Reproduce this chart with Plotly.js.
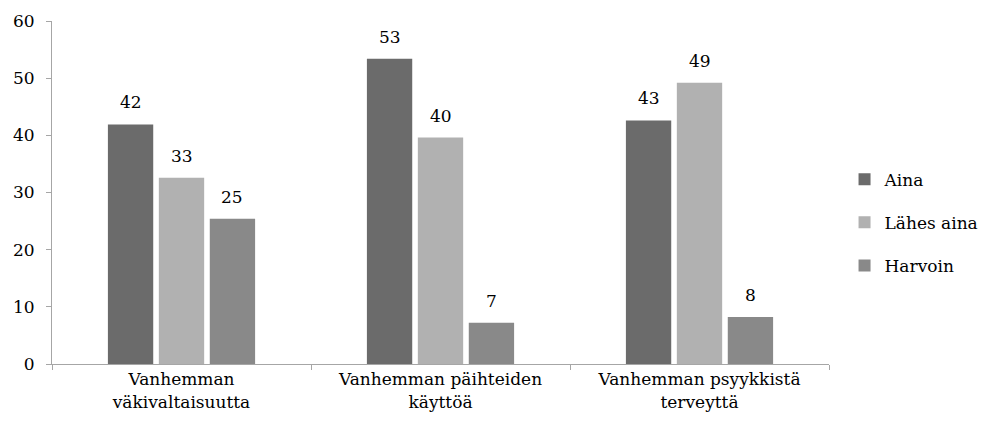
<!DOCTYPE html>
<html>
<head>
<meta charset="utf-8">
<script src="https://cdn.plot.ly/plotly-3.0.1.min.js"></script>
<style>html,body{margin:0;padding:0;background:#fff;}#chart{width:988px;height:434px;}</style>
</head>
<body>
<div id="chart"></div>
<script>
const categories = ["Vanhemman<br>väkivaltaisuutta", "Vanhemman päihteiden<br>käyttöä", "Vanhemman psyykkistä<br>terveyttä"];
const seriesNames = ["Aina", "Lähes aina", "Harvoin"];
const aina = [41.9, 53.4, 42.6];
const lahesAina = [32.6, 39.6, 49.2];
const harvoin = [25.4, 7.2, 8.2];
const yTicks = [0, 10, 20, 30, 40, 50, 60];

const seriesValues = [aina, lahesAina, harvoin];
const colors = ["#6b6b6b", "#b1b1b1", "#898989"];
const FONT = "DejaVu Serif";
const FS = 17;
const bargap = 0.41;

const traces = seriesValues.map((vals, i) => ({
  type: "bar",
  name: seriesNames[i],
  x: categories,
  y: vals,
  marker: {color: colors[i], line: {width: 0}},
  legendgroup: "g" + i,
  hoverinfo: "x+y+name"
}));

const annotations = [];
const slot = (1 - bargap) / seriesValues.length;
seriesValues.forEach((vals, i) => {
  vals.forEach((v, c) => {
    annotations.push({
      x: c + (i - (seriesValues.length - 1) / 2) * slot,
      y: v,
      xref: "x", yref: "y",
      text: String(Math.round(v)),
      showarrow: false,
      yanchor: "bottom",
      yshift: 10,
      font: {family: FONT, size: FS, color: "#000"}
    });
  });
});

const layout = {
  width: 988, height: 434,
  margin: {l: 52, r: 159, t: 21, b: 70, autoexpand: false},
  paper_bgcolor: "#fff", plot_bgcolor: "#fff",
  barmode: "group",
  bargap: bargap,
  bargroupgap: 0.11,
  font: {family: FONT, size: FS, color: "#000"},
  xaxis: {
    type: "category",
    showline: true, linecolor: "#a6a6a6", linewidth: 1,
    ticks: "outside", ticklen: 5, tickcolor: "#a6a6a6",
    tickson: "boundaries",
    showgrid: false, zeroline: false,
    tickfont: {family: FONT, size: FS, color: "#000"}
  },
  yaxis: {
    range: [0, 60],
    tickvals: yTicks,
    showline: true, linecolor: "#a6a6a6", linewidth: 1,
    ticks: "outside", ticklen: 5, tickcolor: "#a6a6a6",
    showgrid: false, zeroline: false,
    ticklabelstandoff: 8,
    tickfont: {family: FONT, size: FS, color: "#000"}
  },
  legend: {
    x: 1.02, xanchor: "left",
    y: 0.59, yanchor: "top",
    traceorder: "grouped",
    tracegroupgap: 18,
    font: {family: FONT, size: FS, color: "#000"},
    itemwidth: 30
  },
  annotations: annotations,
  showlegend: true
};

Plotly.newPlot("chart", traces, layout, {displayModeBar: false, staticPlot: true});
</script>
</body>
</html>
